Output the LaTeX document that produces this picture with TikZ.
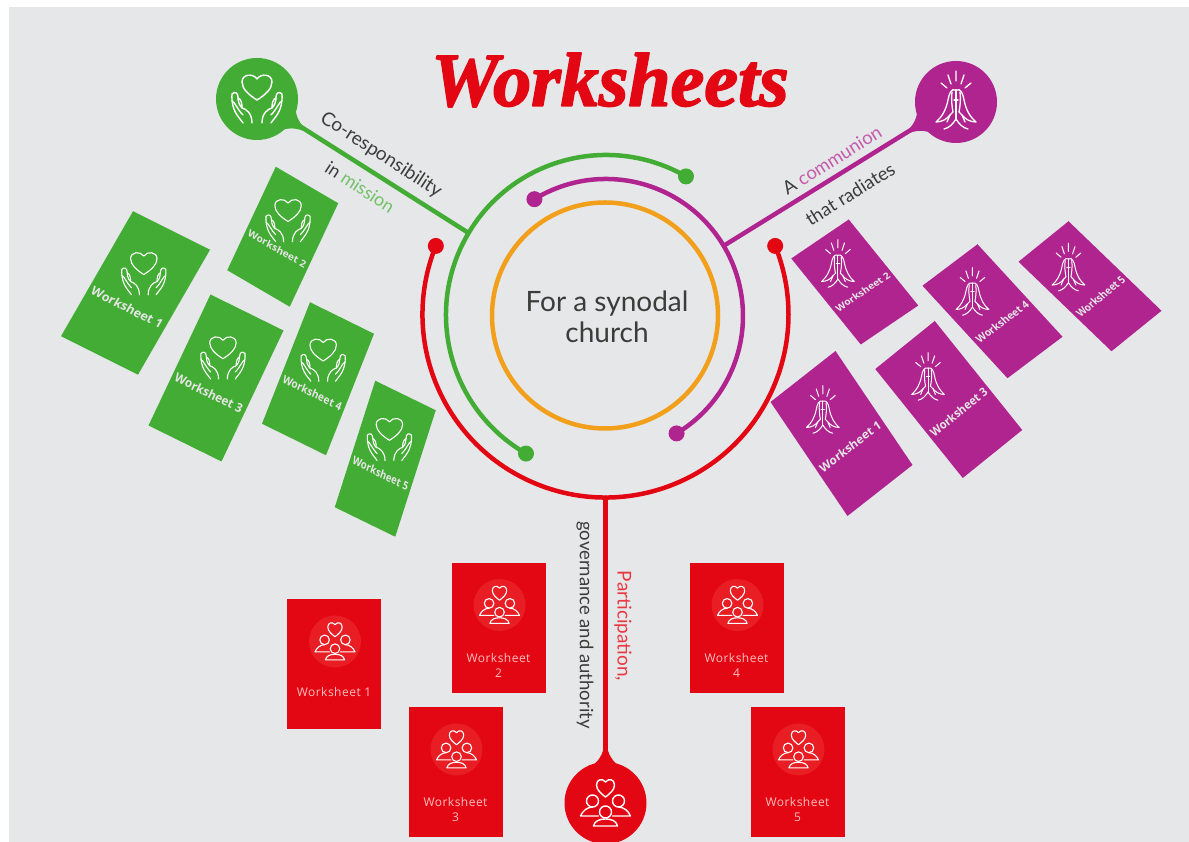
\documentclass[tikz,border=0pt]{standalone}
\usepackage{fontspec}
\setmainfont{Lato}
\newfontfamily\titlefont[BoldItalicFeatures={FakeBold=2.2}]{Liberation Serif}
\newfontfamily\cardfont{Open Sans}
\newfontfamily\redfont[LetterSpace=4]{Open Sans}
\usetikzlibrary{calc}
\definecolor{bggrey}{HTML}{E6E7E9}
\definecolor{cgreen}{HTML}{43AC34}
\definecolor{cpurple}{HTML}{B0248F}
\definecolor{cred}{HTML}{E30613}
\definecolor{corange}{HTML}{F29F1B}
\definecolor{ctext}{HTML}{3C3C3B}
\definecolor{cblob}{HTML}{E81E24}
\newcommand{\fsz}[1]{\fontsize{#1}{#1}\selectfont}
\tikzset{
	dot/.style={circle,inner sep=0pt,minimum size=16pt},
	pinhead/.style={circle,inner sep=0pt,minimum size=82pt},
	sheet/.style={inner sep=0pt,transform shape,minimum width=70pt,minimum height=120pt},
	lead/.style={text=ctext},
	sheetlbl/.style={white!90!black,inner sep=0pt,transform shape,font=\cardfont\bfseries\fsz{10.2}}
}
\begin{document}
\begin{tikzpicture}[x=1pt,y=1pt,line cap=round,line join=round,
	pics/flare/.style={code={
		\fill (32,21) .. controls (39,9) and (45,4) .. (56,1.5) -- (56,-1.5) .. controls (45,-4) and (39,-9) .. (32,-21) -- cycle;
	}},
	pics/hands/.style={code={
		\draw[white] (0,-1) .. controls (-8,4) and (-15,10) .. (-15,17) .. controls (-15,25) and (-4,26) .. (0,20) .. controls (4,26) and (15,25) .. (15,17) .. controls (15,10) and (8,4) .. (0,-1);
		\foreach \sx in {-1,1}{
			\draw[white,xscale=\sx] (14,-24) .. controls (18,-18) and (26,-12) .. (25,5) .. controls (22,8) and (19,6) .. (19,2) .. controls (19,-2) and (18,-6) .. (15,-9);
			\draw[white,xscale=\sx] (19,1) .. controls (16,0) and (15,-4) .. (15,-9) .. controls (11,-10) and (5,-14) .. (5,-24);
			\draw[white,xscale=\sx] (25,-2) .. controls (22,-3) and (20,-10) .. (14,-16);
		}
	}},
	pics/pray/.style={code={
		\draw[white] (0,31) -- (0,21) (-8,27) -- (-5,18) (8,27) -- (5,18) (-15,19) -- (-9,14) (15,19) -- (9,14);
		\draw[white] (0,12) -- (0,-17) (-2,2) -- (2,2);
		\foreach \sx in {-1,1}{
			\draw[white,xscale=\sx] (0,12) .. controls (5,14) and (7,8) .. (8,2) .. controls (10,-8) and (14,-15) .. (20,-20) .. controls (14,-20) and (9,-17) .. (6,-13);
			\draw[white,xscale=\sx] (12,-27) .. controls (7,-26) and (3,-22) .. (0,-17) (6,-13) -- (9,-20);
			\draw[white,xscale=\sx] (4,10) .. controls (5,3) and (4,-5) .. (3,-10) -- (6,-13);
		}
	}},
	pics/folk/.style={code={
		\draw[white] (0,6) .. controls (-4,9) and (-9,13) .. (-9,18) .. controls (-9,24) and (-3,25) .. (0,21) .. controls (3,25) and (9,24) .. (9,18) .. controls (9,13) and (4,9) .. (0,6);
		\draw[white] (0,-9) circle[radius=6] (-13,2) circle[radius=6] (13,2) circle[radius=6];
		\draw[white] (-12,-23) -- (12,-23) .. controls (11,-18) and (6,-16) .. (0,-16) .. controls (-6,-16) and (-11,-18) .. (-12,-23);
		\draw[white] (-25,-13) -- (-7,-13) (-25,-13) .. controls (-23,-8) and (-18,-4) .. (-13,-4) (25,-13) -- (7,-13) (25,-13) .. controls (23,-8) and (18,-4) .. (13,-4);
	}}]
\useasboundingbox (0,0) rectangle (1189,842);
\fill[bggrey] (9,0) rectangle (1189,835);

\node[text=cred,font=\titlefont\bfseries\itshape\fsz{76}] (title) at (610,762) {Worksheets};

\node[circle,draw=corange,line width=4.5pt,minimum size=226pt,inner sep=0pt] (core) at (605,526.5) {};
\node[text=ctext,align=center,font=\fsz{28},inner sep=0pt] (corelbl) at (607,525) {For a synodal\\[3pt]church};

% green arc, pin and text
\node[dot,fill=cgreen] (ga) at ($(606,527)+(60:160)$) {};
\node[dot,fill=cgreen] (gb) at ($(606,527)+(240:160)$) {};
\draw[cgreen,line width=4.5pt] (ga.center) arc[start angle=60,end angle=240,radius=160];
\coordinate (gend) at (467,610);
\node[pinhead,fill=cgreen] (gpin) at (257,743) {};
\draw[cgreen,line width=4.5pt] (gpin.center) -- (gend);
\pic[cgreen,rotate=-33] at (gpin) {flare};
\pic[line width=1.4pt] at (gpin) {hands};
\node[lead,rotate=-33,font=\fsz{19}] (glbl1) at (381,687) {Co-responsibility};
\node[lead,rotate=-33,font=\fsz{18}] (glbl2) at (360,655) {in \textcolor{cgreen!75!white}{mission}};

% purple arc, pin and text
\node[dot,fill=cpurple] (pa) at ($(606,526)+(121.5:137)$) {};
\node[dot,fill=cpurple] (pb) at ($(606,526)+(-59:137)$) {};
\draw[cpurple,line width=4.5pt] (pa.center) arc[start angle=121.5,end angle=-59,radius=137];
\coordinate (pend) at (725,597);
\node[pinhead,fill=cpurple] (ppin) at (956,740) {};
\draw[cpurple,line width=4.5pt] (ppin.center) -- (pend);
\pic[cpurple,rotate=212] at (ppin) {flare};
\pic[line width=1.3pt] at (ppin) {pray};
\node[lead,rotate=32,font=\fsz{18.5}] (plbl1) at (832,682) {A \textcolor{cpurple!75!white}{communion}};
\node[lead,rotate=32,font=\fsz{18.5}] (plbl2) at (850,648) {that radiates};

% red arc, pin and text
\node[dot,fill=cred] (ra) at ($(605.5,527.5)+(158:183)$) {};
\node[dot,fill=cred] (rb) at ($(605.5,527.5)+(22:183)$) {};
\draw[cred,line width=4.5pt] (ra.center) arc[start angle=158,end angle=382,radius=183];
\coordinate (rend) at (605.5,344);
\node[pinhead,fill=cred] (rpin) at (605.5,39) {};
\draw[cred,line width=5pt] (rpin.center) -- (rend);
\pic[cred,rotate=90] at (rpin) {flare};
\pic[line width=1.4pt] at (rpin) {folk};
\node[lead,rotate=-90,font=\fsz{18.5}] (rlbl1) at (585,217) {governance and authority};
\node[rotate=-90,text=cred!80!white,font=\fsz{19}] (rlbl2) at (623,216) {Participation,};

% green sheets
\foreach \num/\cx/\cy/\ux/\uy/\vx/\vy in {1/135.5/549/77/-38.5/72/125,2/282.75/605.25/62.5/-36.5/48.5/103.5,3/216/464/73/-36/62/131,4/318/463.25/64/-31.5/48/121.5,5/385.25/383.25/60.5/-29.5/40.5/126.5}{
	\pgfmathsetmacro{\ma}{\ux/70}\pgfmathsetmacro{\mb}{\uy/70}
	\pgfmathsetmacro{\mc}{\vx/120}\pgfmathsetmacro{\md}{\vy/120}
	\begin{scope}[cm={\ma,\mb,\mc,\md,(\cx,\cy)}]
		\node[sheet,fill=cgreen] (g\num) at (0,0) {};
		\pic[scale=.88,line width=1.1pt] at (-2,17.5) {hands};
		\node[sheetlbl] (gt\num) at (0,-13.8) {Worksheet \num};
	\end{scope}
}

% purple sheets
\foreach \num/\cx/\cy/\ux/\uy/\vx/\vy in {1/841.5/408.5/65/51/-77/114,2/854.75/560/57.5/39/-69.5/86,3/948.75/442.5/59.5/48/-87.5/109,4/992.5/530.75/55/41.5/-85/92.5,5/1090/555.75/50/40.5/-93/89.5}{
	\pgfmathsetmacro{\ma}{\ux/70}\pgfmathsetmacro{\mb}{\uy/70}
	\pgfmathsetmacro{\mc}{\vx/120}\pgfmathsetmacro{\md}{\vy/120}
	\begin{scope}[cm={\ma,\mb,\mc,\md,(\cx,\cy)}]
		\node[sheet,fill=cpurple] (p\num) at (0,0) {};
		\pic[scale=.82,line width=1pt] at (-2.5,25.5) {pray};
		\node[sheetlbl] (pt\num) at (0,-13.7) {Worksheet \num};
	\end{scope}
}

% red sheets
\foreach \num/\cx/\cy/\dy/\txt in {1/334/177.5/-27.5/{Worksheet 1},2/498.5/214/-37/{Worksheet\\2},3/455.5/69.5/-37/{Worksheet\\3},4/736.5/214/-37/{Worksheet\\4},5/797.5/69.5/-37/{Worksheet\\5}}{
	\node[sheet,fill=cred,minimum width=94pt,minimum height=130pt] (r\num) at (\cx,\cy) {};
	\fill[cblob] ($(r\num)+(1,23)$) circle[radius=26];
	\pic[scale=.8,line width=1.1pt] at ($(r\num)+(1,23)$) {folk};
	\node[inner sep=0pt,align=center,text=red!25!white,font=\redfont\fontsize{12}{15}\selectfont] (rt\num) at ($(r\num)+(0,\dy)$) {\txt};
}
\end{tikzpicture}
\end{document}
